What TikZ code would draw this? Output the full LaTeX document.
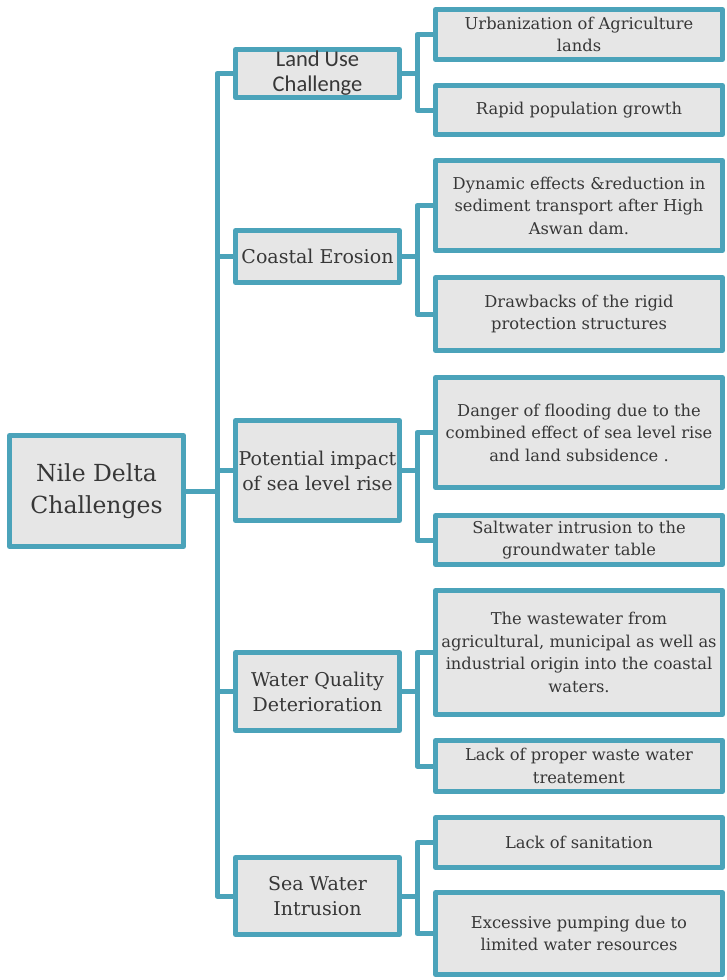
\documentclass[tikz,border=0pt]{standalone}
\usepackage{fontspec}
\setmainfont{DejaVu Serif}
\newfontfamily\calfont{Carlito}
\definecolor{teal}{RGB}{75,163,186}
\definecolor{boxgray}{RGB}{230,230,230}
\definecolor{ink}{RGB}{55,55,55}
\begin{document}
\begin{tikzpicture}[x=1pt,y=-1pt,line join=round,
  every node/.style={inner sep=1pt,text=ink,align=center},
  box/.style={draw=teal,fill=boxgray,line width=5pt,rectangle},
  rootbox/.style={box,minimum width=174pt,minimum height=111pt,font=\fontsize{23.5}{32}\selectfont},
  topic/.style={box,minimum width=164pt,font=\fontsize{19}{25}\selectfont},
  issue/.style={box,minimum width=287pt,font=\fontsize{16.3}{22.5}\selectfont},
  link/.style={draw=teal,line width=5pt}]
  \useasboundingbox (0,0) rectangle (726,980);
  % root
  \node[rootbox] (root) at (96.5,491) {Nile Delta\\Challenges};
  % first level
  \node[topic,minimum height=48pt,font=\calfont\fontsize{22.5}{25}\selectfont] (land) at (317.5,73.5) {Land Use\\Challenge};
  \node[topic,minimum height=52pt] (coast) at (317.5,256.5) {Coastal Erosion};
  \node[topic,minimum height=100pt] (sealvl) at (317.5,470.5) {Potential impact\\of sea level rise};
  \node[topic,minimum height=78pt] (quality) at (317.5,691.5) {Water Quality\\Deterioration};
  \node[topic,minimum height=77pt] (intru) at (317.5,896) {Sea Water\\Intrusion};
  % second level
  \node[issue,minimum height=50pt] (urb) at (579,34.5) {Urbanization of Agriculture\\lands};
  \node[issue,minimum height=49pt] (rapid) at (579,110) {Rapid population growth};
  \node[issue,minimum height=90pt] (dyn) at (579,205.5) {Dynamic effects \&reduction in\\sediment transport after High\\Aswan dam.};
  \node[issue,minimum height=73pt] (rigid) at (579,314) {Drawbacks of the rigid\\protection structures};
  \node[issue,minimum height=110pt] (flood) at (579,432.5) {Danger of flooding due to the\\combined effect of sea level rise\\and land subsidence .};
  \node[issue,minimum height=49pt] (salt) at (579,540) {Saltwater intrusion to the\\groundwater table};
  \node[issue,minimum height=124pt] (waste) at (579,652.5) {The wastewater from\\agricultural, municipal as well as\\industrial origin into the coastal\\waters.};
  \node[issue,minimum height=51pt] (treat) at (579,766) {Lack of proper waste water\\treatement};
  \node[issue,minimum height=50pt] (sanit) at (579,842.5) {Lack of sanitation};
  \node[issue,minimum height=82pt] (pump) at (579,933.5) {Excessive pumping due to\\limited water resources};
  % connectors
  \foreach \t in {land,coast,sealvl,quality,intru}
    \draw[link] (root.east) -- ++(31,0) |- (\t.west);
  \foreach \t/\a/\b in {land/urb/rapid,coast/dyn/rigid,sealvl/flood/salt,quality/waste/treat,intru/sanit/pump}{
    \draw[link] (\t.east) -- ++(15,0) |- (\a.west);
    \draw[link] (\t.east) -- ++(15,0) |- (\b.west);
  }
\end{tikzpicture}
\end{document}
